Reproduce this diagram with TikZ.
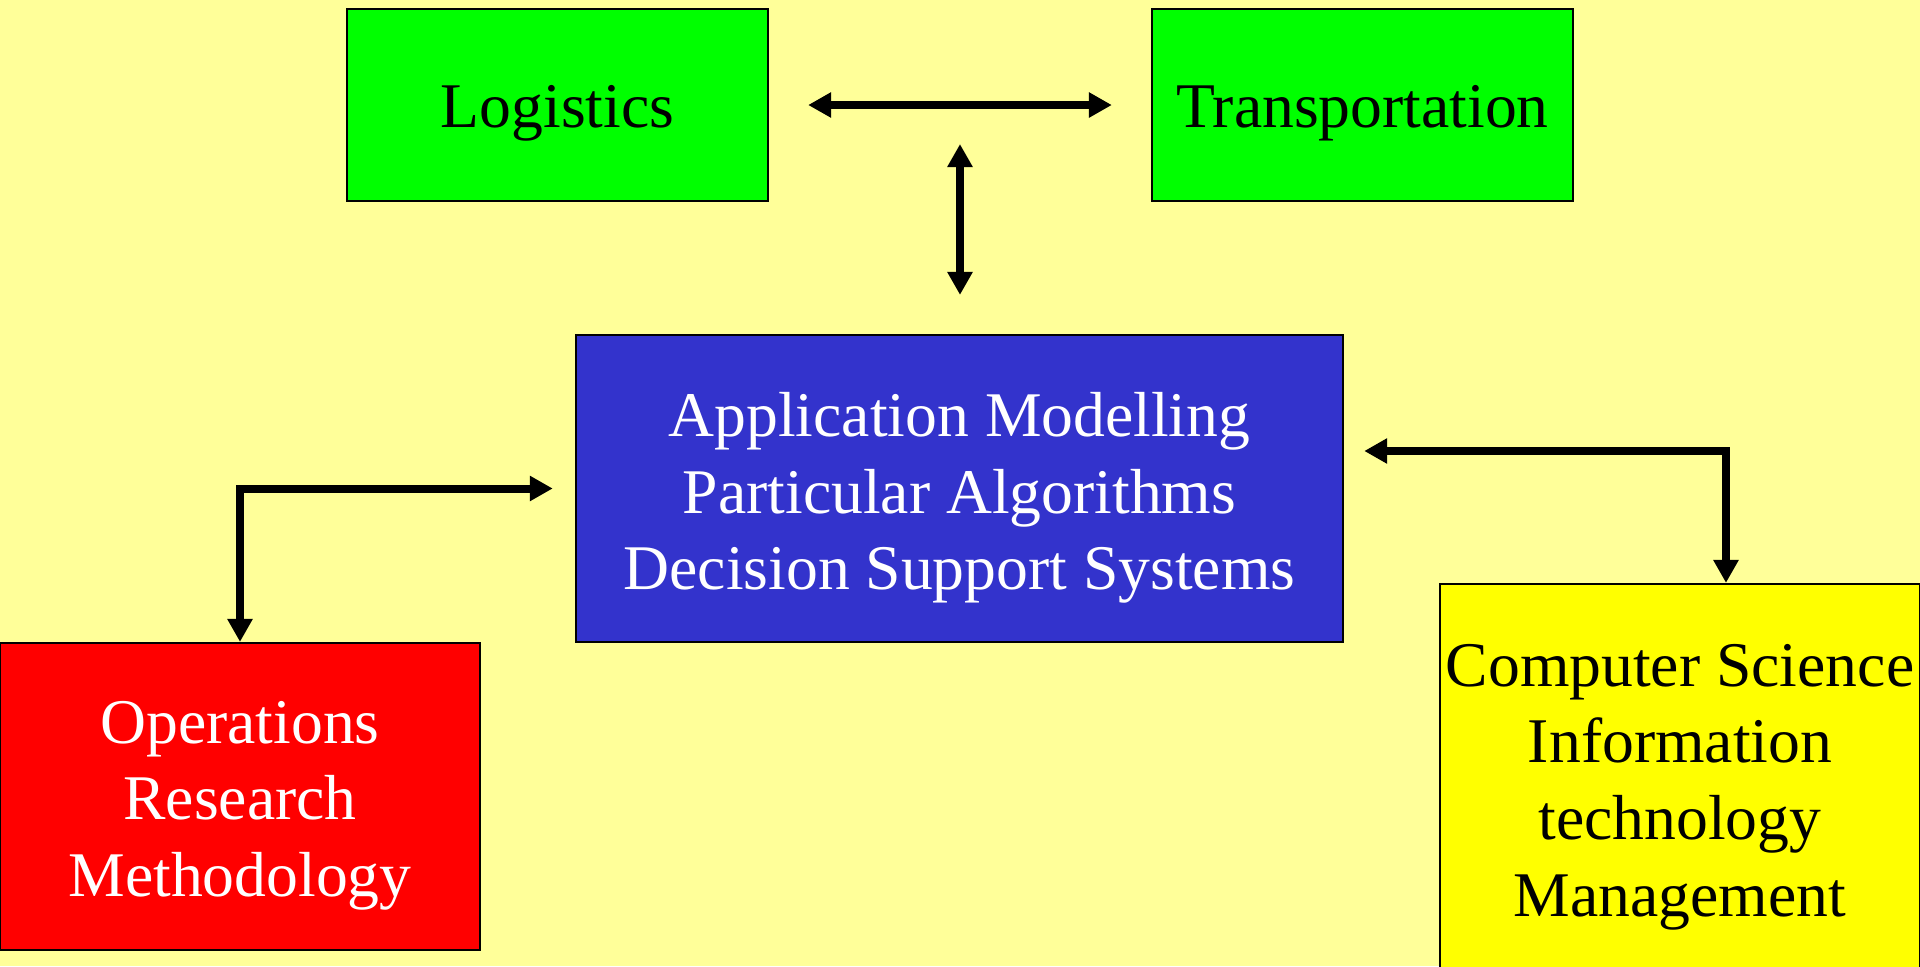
\documentclass[tikz,border=0pt]{standalone}
\usepackage{fontspec}
\setmainfont{Liberation Serif}
\usetikzlibrary{arrows.meta,calc}
\definecolor{paper}{HTML}{FFFF99}
\definecolor{boxgreen}{HTML}{00FF00}
\definecolor{boxblue}{HTML}{3333CC}
\definecolor{boxred}{HTML}{FF0000}
\definecolor{boxyellow}{HTML}{FFFF00}
% taller first line pushes the block down inside its box
\newcommand{\lift}[1]{\rule{0pt}{#1}}
\begin{document}
\begin{tikzpicture}[x=0.01cm,y=-0.01cm,font=\fontsize{18.1pt}{21.8pt}\selectfont,
  box/.style={draw=black,line width=0.02cm,align=center,inner sep=0pt},
  conn/.style={line width=0.08cm,{Triangle[length=0.23cm,width=0.24cm]}-{Triangle[length=0.23cm,width=0.24cm]}}]
\fill[paper] (0,0) rectangle (1920,966);
\useasboundingbox (0,0) rectangle (1920,966);
\node[box,fill=boxgreen,minimum width=4.21cm,minimum height=1.92cm] (logistics) at (557.5,105) {\lift{0.59cm}Logistics};
\node[box,fill=boxgreen,minimum width=4.21cm,minimum height=1.92cm] (transport) at (1362.5,105) {\lift{0.59cm}Transportation};
\node[box,fill=boxblue,text=white,minimum width=7.67cm,minimum height=3.07cm] (apps) at (959.5,488.5) {\lift{0.63cm}Application Modelling\\Particular Algorithms\\Decision Support Systems};
\node[box,fill=boxred,text=white,minimum width=4.8cm,minimum height=3.07cm] (opres) at (240,796.5) {\lift{0.60cm}Operations\\Research\\Methodology};
\node[box,fill=boxyellow,minimum width=4.8cm,minimum height=4.06cm] (compsci) at (1680,787) {Computer Science\\Information\\technology\\Management};
\coordinate (hub) at ($(logistics.east)!0.5!(transport.west)$);
\draw[conn,shorten <=0.39cm,shorten >=0.39cm] (logistics) -- (transport);
\draw[conn,shorten <=0.39cm,shorten >=0.39cm] (hub) -- (hub |- apps.north);
\draw[conn,shorten >=0.22cm] (opres.north) |- (apps.west);
\draw[conn] ($(compsci.north)+(46,0)$) |- ($(apps.east)+(20,-37.5)$);
\end{tikzpicture}
\end{document}
